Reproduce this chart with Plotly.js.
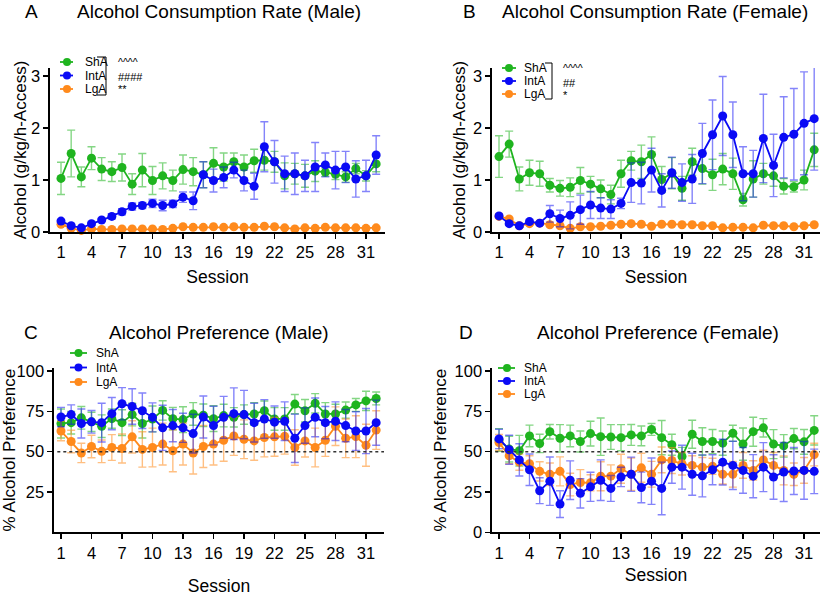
<!DOCTYPE html>
<html><head><meta charset="utf-8">
<script src="https://cdn.plot.ly/plotly-3.0.1.min.js"></script>
<style>html,body{margin:0;padding:0;background:#fff}#chart{width:825px;height:596px}</style>
</head><body><div id="chart"></div>
<script>
// ---------- data ----------
const sessions = [1,2,3,4,5,6,7,8,9,10,11,12,13,14,15,16,17,18,19,20,21,22,23,24,25,26,27,28,29,30,31,32];
const xTickVals = [1,4,7,10,13,16,19,22,25,28,31];
const groupNames = ['ShA','IntA','LgA'];

// A: Alcohol consumption rate, male (g/kg/h-Access)
const shaRateMale = [1.03,1.51,1.06,1.42,1.21,1.16,1.24,0.92,1.19,0.99,1.08,0.99,1.20,1.16,1.10,1.32,1.25,1.35,1.25,1.37,1.38,1.35,1.08,1.12,1.08,1.17,1.15,1.11,1.06,1.22,1.08,1.31];
const shaRateMaleErr = [0.31,0.45,0.19,0.22,0.22,0.19,0.26,0.20,0.32,0.27,0.25,0.20,0.28,0.27,0.25,0.30,0.27,0.17,0.23,0.22,0.19,0.20,0.25,0.20,0.22,0.20,0.08,0.10,0.10,0.10,0.10,0.15];
const intRateMale = [0.21,0.12,0.08,0.16,0.23,0.30,0.39,0.49,0.51,0.55,0.51,0.54,0.67,0.60,1.10,0.99,1.05,1.19,0.99,0.88,1.64,1.35,1.12,1.12,1.08,1.25,1.29,1.19,1.25,1.02,1.08,1.48];
const intRateMaleErr = [0.03,0.03,0.02,0.03,0.03,0.05,0.06,0.07,0.06,0.08,0.10,0.07,0.10,0.17,0.25,0.22,0.20,0.15,0.20,0.25,0.48,0.41,0.34,0.40,0.30,0.47,0.23,0.36,0.30,0.35,0.30,0.37];
const lgaRateMale = [0.15,0.07,0.03,0.06,0.05,0.05,0.06,0.06,0.06,0.06,0.05,0.07,0.10,0.09,0.09,0.10,0.09,0.10,0.09,0.09,0.11,0.10,0.08,0.06,0.08,0.07,0.09,0.08,0.08,0.08,0.07,0.08];
const lgaRateMaleErr = [0.03,0.02,0.02,0.02,0.02,0.02,0.02,0.02,0.02,0.02,0.02,0.02,0.02,0.02,0.02,0.02,0.02,0.02,0.02,0.02,0.02,0.02,0.02,0.02,0.02,0.02,0.02,0.02,0.02,0.02,0.02,0.02];

// B: Alcohol consumption rate, female
const shaRateFemale = [1.45,1.69,1.02,1.14,1.12,0.90,0.84,0.86,0.99,0.92,0.83,0.72,1.12,1.37,1.35,1.49,1.01,1.13,0.84,1.35,1.22,1.10,1.21,1.12,0.62,1.02,1.12,1.08,0.88,0.87,1.00,1.58];
const shaRateFemaleErr = [0.40,0.25,0.23,0.24,0.24,0.13,0.15,0.18,0.25,0.15,0.17,0.18,0.26,0.18,0.32,0.34,0.25,0.30,0.23,0.26,0.30,0.30,0.30,0.30,0.12,0.35,0.20,0.20,0.15,0.10,0.19,0.32];
const intRateFemale = [0.31,0.16,0.12,0.20,0.17,0.35,0.26,0.32,0.43,0.52,0.46,0.44,0.55,0.95,0.94,1.19,0.80,1.14,0.95,1.02,1.51,1.87,2.23,1.87,1.12,1.12,1.80,1.28,1.82,1.88,2.09,2.18];
const intRateFemaleErr = [0.03,0.03,0.03,0.04,0.03,0.16,0.16,0.26,0.28,0.26,0.20,0.18,0.10,0.38,0.40,0.42,0.32,0.30,0.36,0.47,0.58,0.67,0.76,0.63,0.52,0.45,0.85,0.60,0.78,0.88,0.99,0.99];
const lgaRateFemale = [0.30,0.25,0.12,0.16,0.17,0.14,0.12,0.07,0.10,0.10,0.11,0.13,0.15,0.16,0.15,0.11,0.15,0.15,0.14,0.14,0.12,0.12,0.08,0.09,0.09,0.08,0.13,0.12,0.12,0.10,0.12,0.14];
const lgaRateFemaleErr = [0.03,0.03,0.02,0.02,0.02,0.02,0.02,0.02,0.02,0.02,0.02,0.02,0.02,0.02,0.02,0.02,0.02,0.02,0.02,0.02,0.02,0.02,0.02,0.02,0.02,0.02,0.02,0.02,0.02,0.02,0.02,0.02];

// C: Alcohol preference, male (%)
const shaPrefMale = [67.5,68,71,68.5,65.8,70.5,68,73,67.5,70.3,75.6,70.5,69.9,73.4,72.6,70.5,72.4,71.3,73,73.4,75.4,70.3,70.3,79.5,75.4,80,73.4,73.4,75.8,79,81.5,83];
const shaPrefMaleErr = [9,7,7,6,7,6,8,7,9,8,6,7,8,7,7,8,7,6,6,7,6,7,7,6,7,6,7,6,5,4,6,4];
const intPrefMale = [71.5,73,67.5,68.5,68,73.6,79.7,78,75.4,71.3,64.8,66.2,64.8,61.2,71.5,66.2,71.3,73.6,73,68,70.3,68.3,68.9,58.3,66.2,71.3,68,68.9,66.2,62.8,62.8,68];
const intPrefMaleErr = [6,6,9,7,12,10,10,11,11,9,14,10,9,12,13,12,13,16,15,12,12,10,12,15,11,12,10,12,10,12,14,14];
const lgaPrefMale = [62.8,56.3,49.2,53.2,50.2,52.6,52,59.2,51.4,52.6,54.7,50.6,54.7,49.2,53.2,54.7,57.1,59.7,57.7,56.7,58.8,59.2,59.5,52.6,56.7,52.6,57.1,65.8,58.3,59.3,54,63.4];
const lgaPrefMaleErr = [6,7,6,7,7,8,9,10,11,12,13,13,13,13,13,13,13,12,12,12,12,12,11,11,10,12,10,12,12,13,13,12];

// D: Alcohol preference, female (%)
const shaPrefFemale = [57.3,51.6,50.6,59.8,55.1,62.4,58.3,59.8,56.3,61.2,59.3,59.1,58.7,60.4,59.8,63.8,58.7,54.3,47,60.8,56.3,56.3,55.3,61.4,54.7,62.4,64.8,54.7,53.6,58.1,56.1,63.2];
const shaPrefFemaleErr = [7,8,9.5,6.7,5.7,4.5,8.5,6.7,6.5,7.7,11.6,7.7,8.1,6.5,6.1,3.7,10.6,6.5,5.7,8.7,8.5,7.5,7.5,5,10,9,5.7,9,7,6.3,7.7,9.1];
const intPrefFemale = [57.9,51.2,44.9,38.8,25.8,31.7,17.5,32.3,24.2,28.2,32.3,27.2,34.3,36,27.8,31.7,27.2,40.4,40.4,36,35,38.8,43.5,41.5,38.4,34.8,40.4,34.3,37.4,38,38.4,37.8];
const intPrefFemaleErr = [6,9,10,9.8,8,15,8.3,12,9.1,9,12.6,8,6,10.6,9.5,14.4,16.3,10,13.6,13,13,9.3,14.2,15,14.2,13.4,15.2,13.8,18.3,14.6,17.9,13.8];
const lgaPrefFemale = [55.7,47.5,43.5,42.5,37.8,36,37.8,29.6,30.9,30.7,34.8,34.8,39.4,36,40,36,44.9,44.5,42.5,41.5,40.4,40.9,36,36,41.5,38.4,44.9,41.5,38.4,36,38.4,48.2];
const lgaPrefFemaleErr = [5,5,5,5,6,7,9,7,8,5,9,7,9,10,9,8,8,8,7,6,6,5,6,8,8,6,6,8,9,7,8,7];

// significance marks
const sigMale = ['^^^^','####','**'];
const sigFemale = ['^^^^','##','*'];

// ---------- styling ----------
const FONT = 'Liberation Sans, Arial, Helvetica, sans-serif';
const W = 825, H = 596;
const COL = {ShA:'#1fb41f', IntA:'#0a0af5', LgA:'#ff8a1c'};
const ECOL = {ShA:'rgba(31,180,31,0.55)', IntA:'rgba(10,10,245,0.5)', LgA:'rgba(255,138,28,0.55)'};
const px = x => x / W;
const py = y => 1 - y / H;

function series(name, y, err, xa, ya) {
  return {
    type:'scatter', mode:'lines+markers', name: name, x: sessions, y: y,
    xaxis: xa, yaxis: ya, showlegend:false, cliponaxis:false,
    line:{color: COL[name], width:1.8},
    marker:{color: COL[name], size:9},
    error_y:{type:'data', array: err, visible:true, color: ECOL[name], thickness:1.4, width:4}
  };
}

const data = [
  series('ShA', shaRateMale, shaRateMaleErr, 'x', 'y'),
  series('LgA', lgaRateMale, lgaRateMaleErr, 'x', 'y'),
  series('IntA', intRateMale, intRateMaleErr, 'x', 'y'),
  series('ShA', shaRateFemale, shaRateFemaleErr, 'x2', 'y2'),
  series('LgA', lgaRateFemale, lgaRateFemaleErr, 'x2', 'y2'),
  series('IntA', intRateFemale, intRateFemaleErr, 'x2', 'y2'),
  series('ShA', shaPrefMale, shaPrefMaleErr, 'x3', 'y3'),
  series('LgA', lgaPrefMale, lgaPrefMaleErr, 'x3', 'y3'),
  series('IntA', intPrefMale, intPrefMaleErr, 'x3', 'y3'),
  series('ShA', shaPrefFemale, shaPrefFemaleErr, 'x4', 'y4'),
  series('LgA', lgaPrefFemale, lgaPrefFemaleErr, 'x4', 'y4'),
  series('IntA', intPrefFemale, intPrefFemaleErr, 'x4', 'y4')
];

function xAxis(domain, range, anchor, standoff) {
  return {
    domain: domain, range: range, anchor: anchor,
    tickmode:'array', tickvals: xTickVals,
    showline:true, linecolor:'#000', linewidth:1.6, mirror:false,
    ticks:'outside', ticklen:5, tickwidth:1.5, tickcolor:'#000',
    showgrid:false, zeroline:false,
    tickfont:{family:FONT, size:16.5, color:'#000'},
    title:{text:'Session', font:{family:FONT, size:17.5, color:'#000'}, standoff: standoff},
    automargin:false
  };
}
function yAxis(domain, range, anchor, tickvals, title, standoff) {
  return {
    domain: domain, range: range, anchor: anchor,
    tickmode:'array', tickvals: tickvals,
    showline:true, linecolor:'#000', linewidth:1.6,
    ticks:'outside', ticklen:5, tickwidth:1.5, tickcolor:'#000',
    showgrid:false, zeroline:false,
    tickfont:{family:FONT, size:16.5, color:'#000'},
    title:{text:title, font:{family:FONT, size:17, color:'#000'}, standoff: standoff},
    automargin:false
  };
}

const rateTitle = 'Alcohol (g/kg/h-Access)';
const prefTitle = '% Alcohol Preference';

const layout = {
  width: W, height: H,
  margin:{l:0, r:0, t:0, b:0},
  paper_bgcolor:'#fff', plot_bgcolor:'#fff',
  font:{family:FONT, color:'#000'},
  showlegend:false,
  xaxis:  xAxis([px(50), px(385)], [-0.082, 32.87], 'y', 10),
  yaxis:  yAxis([py(232), py(68)], [0, 3.154], 'x', [0,1,2,3], rateTitle, 0),
  xaxis2: xAxis([px(492), px(820)], [0.311, 32.57], 'y2', 10),
  yaxis2: yAxis([py(232), py(68)], [0, 3.154], 'x2', [0,1,2,3], rateTitle, 3),
  xaxis3: xAxis([px(54), px(384)], [0.311, 32.77], 'y3', 23),
  yaxis3: yAxis([py(532.3), py(368)], [0, 101.9], 'x3', [25,50,75,100], prefTitle, 0),
  xaxis4: xAxis([px(492), px(820)], [0.311, 32.57], 'y4', 8),
  yaxis4: yAxis([py(532.3), py(368)], [0, 101.9], 'x4', [0,25,50,75,100], prefTitle, 3),
  shapes: [],
  annotations: []
};

function addText(text, x, y, size, anchor) {
  layout.annotations.push({text: text, xref:'paper', yref:'paper', x: px(x), y: py(y),
    xanchor: anchor || 'center', yanchor:'middle', showarrow:false,
    font:{family:FONT, size:size, color:'#000'}});
}

// panel letters and titles
addText('A', 31, 11, 19); addText('Alcohol Consumption Rate (Male)', 219, 11, 19);
addText('B', 469, 11, 19); addText('Alcohol Consumption Rate (Female)', 655, 11, 19);
addText('C', 31, 332, 19); addText('Alcohol Preference (Male)', 219, 332, 19);
addText('D', 466, 332, 19); addText('Alcohol Preference (Female)', 658, 332, 19);

// manual legends
function legend(rows, lx0, lx1, mx, tx) {
  const order = ['ShA','IntA','LgA'];
  order.forEach((g, i) => {
    const y = rows[i];
    layout.shapes.push({type:'line', xref:'paper', yref:'paper', x0:px(lx0), x1:px(lx1), y0:py(y), y1:py(y),
      line:{color:COL[g], width:1.8}});
    layout.shapes.push({type:'circle', xref:'paper', yref:'paper', x0:px(mx-4), x1:px(mx+4), y0:py(y+4), y1:py(y-4),
      fillcolor:COL[g], line:{color:COL[g], width:0}});
    addText(groupNames[i], tx, y, 12, 'left');
  });
}
legend([62, 75.5, 89], 60, 73, 67, 83);
legend([68, 81, 94], 502, 516, 509, 522);
legend([353, 367.5, 382], 70, 87, 78.5, 94);
legend([368, 381, 394], 498, 515, 507, 522);

// brackets + significance marks
function bracket(x0, x1, y0, y1) {
  layout.shapes.push({type:'path', xref:'paper', yref:'paper',
    path:`M ${px(x0)} ${py(y0)} L ${px(x1)} ${py(y0)} L ${px(x1)} ${py(y1)} L ${px(x0)} ${py(y1)}`,
    line:{color:'#000', width:1}});
}
bracket(97, 106, 57, 95);
bracket(545, 552, 63, 99);
addText(sigMale[0], 116, 62, 10.5, 'left');
addText(sigMale[1], 116, 77, 11, 'left');
addText(sigMale[2], 116, 89, 11, 'left');
addText(sigFemale[0], 561, 68, 10.5, 'left');
addText(sigFemale[1], 561, 83, 11, 'left');
addText(sigFemale[2], 561, 95, 11, 'left');

// 50% reference lines
layout.shapes.push({type:'line', xref:'x3 domain', yref:'y3', x0:0.01, x1:1, y0:50, y1:50,
  line:{color:'#333', width:1.5, dash:'dot'}});
layout.shapes.push({type:'line', xref:'x4 domain', yref:'y4', x0:0.01, x1:1, y0:50, y1:50,
  line:{color:'#333', width:1.5, dash:'dot'}});

Plotly.newPlot('chart', data, layout, {staticPlot:true, displayModeBar:false});
</script></body></html>
